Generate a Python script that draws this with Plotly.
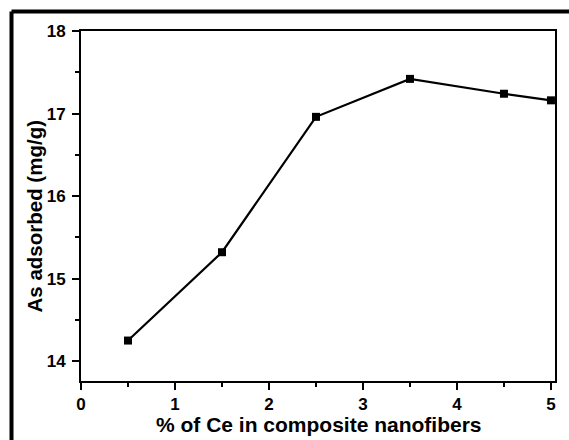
import plotly.graph_objects as go

ce_percent = [0.5, 1.5, 2.5, 3.5, 4.5, 5.0]
as_adsorbed = [14.25, 15.32, 16.96, 17.42, 17.24, 17.16]

W, H = 569, 440
ml, mr, mt, mb = 81, 14, 31, 59
pw, ph = W - ml - mr, H - mt - mb

fig = go.Figure()
fig.add_trace(go.Scatter(
    x=ce_percent, y=as_adsorbed, mode="lines+markers",
    line=dict(color="black", width=2.2),
    marker=dict(symbol="square", size=8, color="black"),
    cliponaxis=False, showlegend=False,
))

tick_font = dict(family="Arial", size=17, color="black", weight="bold")
axis_common = dict(
    showline=True, linecolor="black", linewidth=2, mirror=True,
    ticks="outside", ticklen=7, tickwidth=2, tickcolor="black",
    showgrid=False, zeroline=False, tickfont=tick_font,
    minor=dict(ticks="outside", ticklen=4, tickwidth=2, tickcolor="black", dtick=0.5),
)
fig.update_xaxes(range=[0, 5.043], dtick=1, tick0=0, ticklabelstandoff=0, **axis_common)
fig.update_yaxes(range=[13.76, 18.0], dtick=1, tick0=14, ticklabelstandoff=3, **axis_common)

def px_x(p):
    return (p - ml) / pw

def px_y(p):
    return (H - mb - p) / ph

fig.add_annotation(text="% of Ce in composite nanofibers", xref="paper", yref="paper",
                   x=px_x(318.5), y=px_y(424.5), xanchor="center", yanchor="middle",
                   showarrow=False, borderpad=0,
                   font=dict(family="Arial", size=21, color="black", weight="bold"))
fig.add_annotation(text="As adsorbed (mg/g)", xref="paper", yref="paper",
                   x=px_x(33.5), y=px_y(216), xanchor="center", yanchor="middle",
                   textangle=-90, showarrow=False, borderpad=0,
                   font=dict(family="Arial", size=20.5, color="black", weight="bold"))

frame = dict(color="black", width=4)
fig.add_shape(type="line", xref="paper", yref="paper",
              x0=px_x(11.5), x1=px_x(11.5), y0=px_y(11.5), y1=px_y(440), line=frame)
fig.add_shape(type="line", xref="paper", yref="paper",
              x0=px_x(11.5), x1=px_x(569), y0=px_y(11.5), y1=px_y(11.5), line=frame)

fig.update_layout(
    width=W, height=H,
    margin=dict(l=ml, r=mr, t=mt, b=mb),
    paper_bgcolor="white", plot_bgcolor="white",
)
fig.write_html("out.html")
